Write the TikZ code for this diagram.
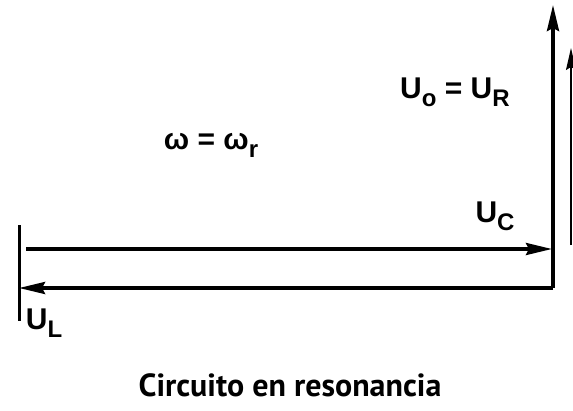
\documentclass[tikz,border=0pt]{standalone}
\usepackage{fontspec}
\setmainfont{Liberation Sans}
\newfontfamily\titlefont{PT Sans}
\usetikzlibrary{arrows.meta}
\newcommand{\lowsub}[1]{\raisebox{-0.5ex}{\fontsize{24}{24}\selectfont #1}}

\tikzset{
  phasor/.style={line width=3.4pt, -{Stealth[length=26pt,width=12pt,inset=3pt]}},
  thinphasor/.style={line width=1.2pt, -{Stealth[length=22pt,width=10pt,inset=3pt]}},
  vlabel/.style={font=\bfseries\fontsize{30}{30}\selectfont, inner sep=0pt},
}

\begin{document}
\begin{tikzpicture}[x=1pt,y=-1pt]
    \useasboundingbox (0,0) rectangle (573,410);
    % origen y puntas de los fasores
    \coordinate (O) at (553,288);
    \coordinate (R) at (553,5);
    \coordinate (Cs) at (26,249);
    \coordinate (Ce) at (552,249);
    \coordinate (L) at (19,288);
    \coordinate (Bt) at (19,225);
    \coordinate (Bb) at (19,321);
    \coordinate (Zs) at (571,245);
    \coordinate (Ze) at (571,48);

    \draw[phasor] (O) -- (R);
    \draw[phasor] (Cs) -- (Ce);
    \draw[phasor] (O) -- (L);
    \draw[line width=3pt] (Bt) -- (Bb);
    \draw[thinphasor] (Zs) -- (Ze);

    % etiquetas
    \node[vlabel] (uR) at (455,92) {U\lowsub{o} = U\lowsub{R}};
    \node[vlabel] (w) at (211,145) {ω = ω\lowsub{r}};
    \node[vlabel] (uC) at (495,216) {U\lowsub{C}};
    \node[vlabel] (uL) at (44,323) {U\lowsub{L}};
    \node[font=\titlefont\bfseries\fontsize{32}{32}\selectfont, inner sep=0pt] (title) at (290,385) {Circuito en resonancia};
\end{tikzpicture}
\end{document}
